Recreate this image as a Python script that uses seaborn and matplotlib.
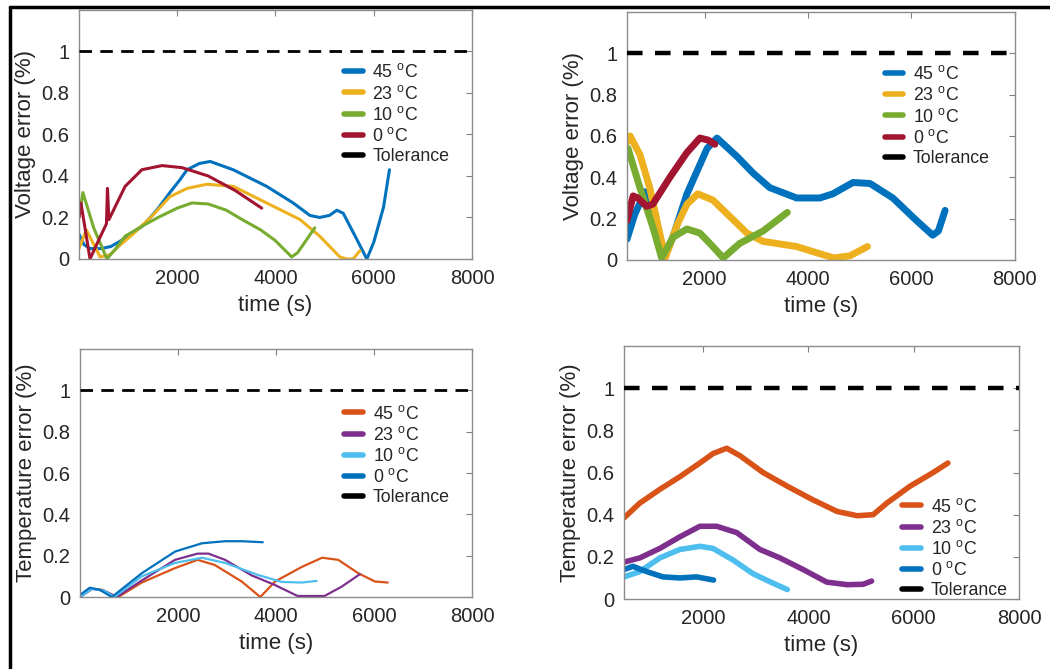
import matplotlib
matplotlib.use("Agg")
import matplotlib.pyplot as plt
import seaborn as sns
import pandas as pd
from matplotlib.lines import Line2D

sns.set_style("white")
plt.rcParams['font.family'] = ['Liberation Sans', 'DejaVu Sans']
plt.rcParams['mathtext.fontset'] = 'custom'
plt.rcParams['mathtext.rm'] = 'Liberation Sans'
plt.rcParams['mathtext.it'] = 'Liberation Sans:italic'

# ---------------- data ----------------
labels = ["45 $^{\\mathrm{o}}$C", "23 $^{\\mathrm{o}}$C", "10 $^{\\mathrm{o}}$C", "0 $^{\\mathrm{o}}$C"]
tolerance = 1.0
xticks = [2000, 4000, 6000, 8000]
yticks = [0, 0.2, 0.4, 0.6, 0.8, 1]
ytick_labels = ["0", "0.2", "0.4", "0.6", "0.8", "1"]

# top-left: voltage error
v1_t45 = [0, 100, 220, 450, 650, 940, 1300, 1600, 1850, 2050, 2200, 2450, 2670, 3140, 3820, 4360, 4700, 4900, 5100, 5250, 5380, 5600, 5860, 6000, 6200, 6320]
v1_e45 = [0.12, 0.07, 0.05, 0.05, 0.06, 0.10, 0.16, 0.24, 0.32, 0.38, 0.43, 0.46, 0.47, 0.43, 0.35, 0.27, 0.21, 0.20, 0.21, 0.235, 0.22, 0.12, 0.0, 0.08, 0.25, 0.43]
v1_t23 = [0, 150, 280, 430, 630, 850, 1100, 1500, 1850, 2200, 2600, 3140, 3820, 4500, 4900, 5310, 5450, 5580, 5720]
v1_e23 = [0.05, 0.14, 0.08, 0.01, 0.02, 0.07, 0.12, 0.21, 0.30, 0.34, 0.36, 0.35, 0.27, 0.19, 0.11, 0.01, 0.0, 0.0, 0.04]
v1_t10 = [0, 80, 300, 570, 750, 940, 1300, 1610, 2000, 2300, 2630, 3000, 3320, 3700, 3990, 4330, 4450, 4800]
v1_e10 = [0.20, 0.32, 0.15, 0.0, 0.05, 0.11, 0.16, 0.20, 0.245, 0.27, 0.265, 0.235, 0.19, 0.14, 0.09, 0.01, 0.03, 0.15]
v1_t0 = [0, 40, 225, 400, 560, 580, 610, 940, 1280, 1690, 2100, 2630, 3180, 3720]
v1_e0 = [0.20, 0.27, 0.0, 0.09, 0.17, 0.34, 0.19, 0.35, 0.43, 0.45, 0.44, 0.40, 0.33, 0.245]

# top-right: voltage error
v2_t45 = [500, 650, 850, 1000, 1230, 1400, 1660, 2050, 2240, 2630, 2940, 3260, 3780, 4230, 4480, 4870, 5200, 5640, 6100, 6410, 6520, 6650]
v2_e45 = [0.10, 0.22, 0.33, 0.22, 0.01, 0.12, 0.32, 0.54, 0.59, 0.50, 0.42, 0.35, 0.30, 0.30, 0.32, 0.375, 0.37, 0.30, 0.19, 0.12, 0.14, 0.24]
v2_t23 = [500, 560, 750, 940, 1080, 1240, 1470, 1660, 1870, 2160, 2490, 2820, 3130, 3780, 4230, 4500, 4810, 5150]
v2_e23 = [0.57, 0.60, 0.51, 0.35, 0.19, 0.01, 0.17, 0.27, 0.32, 0.29, 0.21, 0.13, 0.09, 0.065, 0.03, 0.01, 0.02, 0.065]
v2_t10 = [500, 520, 750, 1000, 1170, 1390, 1660, 1910, 2160, 2360, 2680, 3130, 3600]
v2_e10 = [0.52, 0.54, 0.35, 0.16, 0.01, 0.11, 0.15, 0.13, 0.065, 0.01, 0.08, 0.14, 0.23]
v2_t0 = [500, 620, 710, 880, 1000, 1330, 1660, 1910, 2070, 2200]
v2_e0 = [0.19, 0.31, 0.30, 0.26, 0.27, 0.40, 0.52, 0.59, 0.58, 0.56]

# bottom-left: temperature error
t1_t45 = [0, 240, 450, 650, 780, 1260, 1940, 2400, 2750, 3300, 3680, 3980, 4530, 4940, 5270, 5680, 6020, 6280]
t1_e45 = [0.0, 0.04, 0.035, 0.01, 0.0, 0.07, 0.14, 0.18, 0.155, 0.075, 0.0, 0.075, 0.146, 0.19, 0.18, 0.115, 0.075, 0.07]
t1_t23 = [0, 250, 500, 750, 1260, 1940, 2400, 2620, 2960, 3500, 3980, 4440, 4990, 5340, 5710]
t1_e23 = [0.0, 0.04, 0.03, 0.0, 0.08, 0.18, 0.21, 0.21, 0.18, 0.105, 0.058, 0.005, 0.005, 0.05, 0.11]
t1_t10 = [0, 250, 500, 700, 1260, 1940, 2490, 2960, 3630, 4120, 4530, 4830]
t1_e10 = [0.0, 0.04, 0.03, 0.0, 0.10, 0.165, 0.19, 0.165, 0.107, 0.073, 0.07, 0.078]
t1_t0 = [0, 200, 400, 650, 1260, 1940, 2490, 2960, 3300, 3730]
t1_e0 = [0.01, 0.045, 0.035, 0.0, 0.115, 0.22, 0.26, 0.27, 0.27, 0.265]

# bottom-right: temperature error
t2_t45 = [500, 800, 1180, 1560, 1940, 2190, 2450, 2700, 3140, 3600, 4090, 4550, 4930, 5230, 5490, 5930, 6370, 6650]
t2_e45 = [0.385, 0.455, 0.52, 0.58, 0.645, 0.69, 0.715, 0.68, 0.60, 0.535, 0.47, 0.415, 0.395, 0.40, 0.455, 0.535, 0.60, 0.645]
t2_t23 = [500, 800, 1180, 1560, 1940, 2260, 2640, 3080, 3460, 3900, 4350, 4740, 5040, 5200]
t2_e23 = [0.175, 0.195, 0.24, 0.295, 0.345, 0.345, 0.315, 0.235, 0.195, 0.14, 0.08, 0.068, 0.07, 0.085]
t2_t10 = [500, 800, 1180, 1560, 1940, 2190, 2570, 2950, 3330, 3600]
t2_e10 = [0.105, 0.13, 0.195, 0.235, 0.25, 0.24, 0.185, 0.12, 0.075, 0.045]
t2_t0 = [500, 670, 930, 1240, 1560, 1880, 2200]
t2_e0 = [0.14, 0.155, 0.13, 0.105, 0.10, 0.105, 0.09]

volt_colors = ["#0072BD", "#EDB120", "#77AC30", "#A2142F"]
temp_colors = ["#D95319", "#7E2F8E", "#4DBEEE", "#0072BD"]

fig = plt.figure(figsize=(10.5, 6.69), dpi=100)

panels = [
    dict(rect=[0.0752, 0.6129, 0.3743, 0.3722], series=[(v1_t45, v1_e45), (v1_t23, v1_e23), (v1_t10, v1_e10), (v1_t0, v1_e0)],
         colors=volt_colors, lw=2.2, xlim=(0, 8000), ylabel="Voltage error (%)", tol_lw=2.0, dash=(4.5, 3.0),
         leg_anchor=(0.665, 0.80), leg_loc="upper left"),
    dict(rect=[0.5971, 0.6114, 0.3695, 0.3707], series=[(v2_t45, v2_e45), (v2_t23, v2_e23), (v2_t10, v2_e10), (v2_t0, v2_e0)],
         colors=volt_colors, lw=5.0, xlim=(500, 8000), ylabel="Voltage error (%)", tol_lw=3.2, dash=(3.5, 2.8),
         leg_anchor=(0.655, 0.80), leg_loc="upper left"),
    dict(rect=[0.0762, 0.1076, 0.3733, 0.3707], series=[(t1_t45, t1_e45), (t1_t23, t1_e23), (t1_t10, t1_e10), (t1_t0, t1_e0)],
         colors=temp_colors, lw=1.6, xlim=(0, 8000), ylabel="Temperature error (%)", tol_lw=2.0, dash=(4.5, 3.0),
         leg_anchor=(0.665, 0.79), leg_loc="upper left"),
    dict(rect=[0.5943, 0.1046, 0.3762, 0.3782], series=[(t2_t45, t2_e45), (t2_t23, t2_e23), (t2_t10, t2_e10), (t2_t0, t2_e0)],
         colors=temp_colors, lw=4.0, xlim=(500, 8000), ylabel="Temperature error (%)", tol_lw=3.2, dash=(3.5, 2.8),
         leg_anchor=(0.695, 0.415), leg_loc="upper left"),
]

for p in panels:
    ax = fig.add_axes(p["rect"])
    frames = []
    for lab, (t, e) in zip(labels, p["series"]):
        frames.append(pd.DataFrame({"time": t, "err": e, "temp": lab}))
    df = pd.concat(frames, ignore_index=True)
    sns.lineplot(data=df, x="time", y="err", hue="temp", hue_order=labels,
                 palette=p["colors"], sort=False, estimator=None, lw=p["lw"], ax=ax, legend=False)
    ax.axhline(tolerance, color="black", lw=p["tol_lw"], ls=(0, p["dash"]), zorder=3)
    ax.set_xlim(*p["xlim"])
    ax.set_ylim(0, 1.2)
    ax.set_xticks(xticks)
    ax.set_yticks(yticks)
    ax.set_yticklabels(ytick_labels)
    ax.tick_params(axis="both", direction="in", length=4, width=0.8, colors="#808080",
                   labelcolor="#262626", labelsize=14.5, top=True, right=True, pad=7)
    for s in ax.spines.values():
        s.set_color("#8c8c8c")
        s.set_linewidth(1.0)
    ax.set_xlabel("time (s)", fontsize=16, color="#262626", labelpad=5)
    ax.set_ylabel(p["ylabel"], fontsize=16, color="#262626", labelpad=4)
    handles = [Line2D([], [], color=c, lw=4.0) for c in p["colors"]]
    handles.append(Line2D([], [], color="black", lw=4.0))
    ax.legend(handles, labels + ["Tolerance"], loc=p["leg_loc"], bbox_to_anchor=p["leg_anchor"],
              frameon=False, fontsize=12.8, handlelength=1.05, handletextpad=0.55,
              labelspacing=0.18, borderpad=0.2, borderaxespad=0.0, labelcolor="#262626")

# outer frame lines (top and left)
fig.add_artist(Line2D([0.0095, 1.0], [1 - 7 / 669, 1 - 7 / 669], transform=fig.transFigure, color="black", lw=2.5))
fig.add_artist(Line2D([0.0095, 0.0095], [0.0, 1 - 7 / 669], transform=fig.transFigure, color="black", lw=2.5))

fig.savefig("out.png", dpi=100, facecolor="white")
